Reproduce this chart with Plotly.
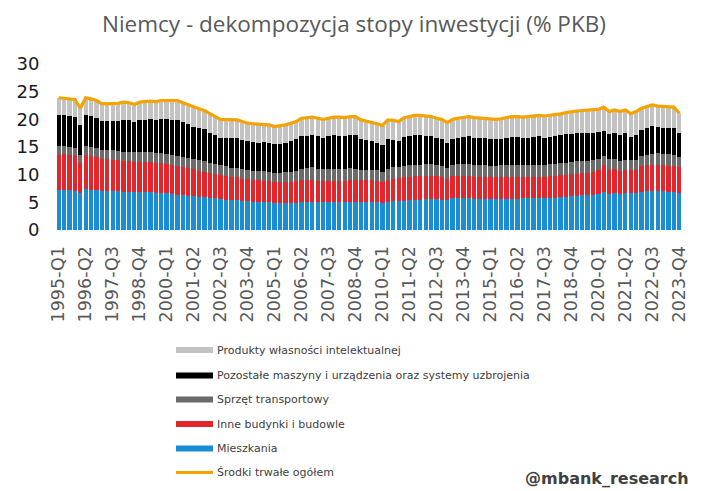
import plotly.graph_objects as go

quarters = [f"{y}-Q{q}" for y in range(1995, 2024) for q in range(1, 5)]
tick_labels = quarters[::5]

mieszkania = [
    7.3, 7.3, 7.2, 7.1, 6.7, 7.4, 7.2, 7.2, 7.0, 7.1, 7.1, 7.0,
    6.9, 6.9, 6.8, 6.8, 6.8, 6.8, 6.7, 6.7, 6.6, 6.5, 6.4, 6.3,
    6.2, 6.1, 6.0, 5.9, 5.8, 5.7, 5.6, 5.5, 5.4, 5.4, 5.3, 5.2,
    5.1, 5.1, 5.0, 5.0, 4.9, 4.9, 4.8, 4.8, 4.9, 5.0, 5.1, 5.1,
    5.0, 5.0, 5.0, 5.0, 5.0, 5.0, 5.0, 5.0, 5.0, 5.0, 5.0, 5.0,
    4.9, 5.1, 5.2, 5.3, 5.3, 5.4, 5.5, 5.5, 5.6, 5.6, 5.6, 5.5,
    5.4, 5.7, 5.7, 5.7, 5.7, 5.6, 5.6, 5.6, 5.6, 5.6, 5.6, 5.6,
    5.6, 5.6, 5.7, 5.7, 5.7, 5.7, 5.7, 5.8, 5.8, 5.9, 6.0, 6.1,
    6.2, 6.3, 6.3, 6.4, 6.5, 6.9, 6.5, 6.6, 6.5, 6.6, 6.6, 6.6,
    6.9, 7.0, 7.0, 7.0, 7.0, 6.9, 6.8, 6.7,
]
inne_budynki = [
    6.3, 6.4, 6.3, 6.3, 5.4, 6.2, 6.2, 6.0, 5.8, 5.7, 5.6, 5.6,
    5.5, 5.5, 5.5, 5.5, 5.5, 5.5, 5.4, 5.4, 5.3, 5.3, 5.2, 5.1,
    5.0, 4.9, 4.7, 4.6, 4.5, 4.4, 4.3, 4.2, 4.1, 4.1, 4.0, 4.0,
    3.9, 3.9, 3.9, 3.9, 3.8, 3.8, 3.9, 3.9, 3.9, 4.0, 4.0, 4.0,
    3.9, 3.9, 3.9, 3.9, 3.9, 3.9, 4.0, 4.0, 4.0, 4.0, 4.0, 3.9,
    3.7, 4.0, 4.1, 4.1, 4.2, 4.2, 4.2, 4.2, 4.2, 4.2, 4.1, 4.1,
    3.8, 4.1, 4.1, 4.1, 4.1, 4.0, 4.0, 4.0, 3.9, 3.9, 3.9, 3.9,
    3.9, 3.9, 3.9, 3.9, 3.9, 3.9, 3.9, 4.0, 4.0, 4.0, 4.0, 4.0,
    4.0, 4.0, 4.0, 4.1, 4.3, 4.9, 4.4, 4.4, 4.1, 4.3, 4.3, 4.3,
    4.6, 4.7, 4.8, 4.8, 4.7, 4.7, 4.7, 4.6,
]
sprzet_transportowy = [
    1.5, 1.5, 1.5, 1.5, 1.4, 1.5, 1.6, 1.6, 1.6, 1.6, 1.7, 1.7,
    1.7, 1.7, 1.8, 1.8, 1.8, 1.8, 1.8, 1.8, 1.8, 1.8, 1.8, 1.8,
    1.9, 1.9, 1.9, 1.9, 1.8, 1.8, 1.8, 1.8, 1.7, 1.7, 1.7, 1.7,
    1.7, 1.7, 1.7, 1.6, 1.6, 1.6, 1.7, 1.7, 1.8, 2.0, 2.1, 2.2,
    2.2, 2.2, 2.2, 2.2, 2.2, 2.2, 2.2, 2.1, 1.9, 1.9, 1.9, 1.9,
    1.9, 2.0, 2.0, 2.0, 2.1, 2.1, 2.1, 2.1, 2.1, 2.1, 2.1, 2.0,
    2.0, 2.0, 2.1, 2.1, 2.1, 2.1, 2.1, 2.1, 2.1, 2.1, 2.2, 2.2,
    2.2, 2.2, 2.2, 2.2, 2.2, 2.2, 2.2, 2.2, 2.2, 2.2, 2.1, 2.1,
    2.2, 2.2, 2.2, 2.2, 2.0, 1.6, 1.9, 1.9, 1.8, 1.8, 1.7, 1.8,
    1.8, 1.9, 2.0, 2.1, 2.1, 2.1, 2.1, 1.9,
]
pozostale_maszyny = [
    5.7, 5.5, 5.6, 5.6, 5.5, 5.7, 5.6, 5.5, 5.3, 5.3, 5.3, 5.4,
    5.8, 5.7, 5.4, 5.8, 5.8, 5.9, 6.0, 6.1, 6.3, 6.3, 6.5, 6.3,
    6.0, 5.8, 5.9, 5.8, 5.5, 5.2, 5.0, 5.2, 5.4, 5.4, 5.3, 5.1,
    5.2, 5.1, 5.3, 5.3, 5.2, 5.3, 5.4, 5.7, 5.8, 5.9, 5.8, 5.8,
    5.8, 5.6, 5.8, 6.0, 5.9, 5.8, 5.9, 6.0, 5.5, 5.3, 5.1, 4.9,
    4.9, 5.3, 5.0, 4.7, 5.2, 5.3, 5.4, 5.4, 5.1, 5.0, 4.8, 4.8,
    4.6, 4.6, 4.7, 4.9, 5.0, 5.0, 4.9, 4.9, 4.9, 4.8, 4.8, 4.9,
    5.1, 5.1, 4.9, 4.9, 5.0, 5.1, 4.9, 4.8, 4.9, 5.0, 5.2, 5.2,
    5.1, 5.1, 5.1, 4.9, 4.9, 4.5, 4.5, 4.7, 4.8, 4.8, 4.2, 4.5,
    4.8, 4.8, 5.0, 4.7, 4.7, 4.8, 4.8, 4.4,
]
produkty_wlasnosci = [
    3.1, 3.1, 3.1, 3.1, 3.0, 3.1, 3.1, 3.1, 3.1, 3.1, 3.1, 3.2,
    3.2, 3.2, 3.2, 3.2, 3.3, 3.3, 3.3, 3.4, 3.4, 3.5, 3.5, 3.5,
    3.5, 3.5, 3.4, 3.4, 3.4, 3.4, 3.3, 3.3, 3.3, 3.3, 3.3, 3.3,
    3.3, 3.3, 3.2, 3.2, 3.2, 3.2, 3.2, 3.2, 3.2, 3.3, 3.3, 3.3,
    3.3, 3.3, 3.3, 3.3, 3.4, 3.4, 3.4, 3.4, 3.5, 3.5, 3.5, 3.5,
    3.5, 3.5, 3.5, 3.5, 3.5, 3.5, 3.5, 3.5, 3.6, 3.6, 3.6, 3.6,
    3.6, 3.6, 3.6, 3.6, 3.6, 3.6, 3.6, 3.6, 3.6, 3.6, 3.6, 3.7,
    3.7, 3.7, 3.7, 3.8, 3.8, 3.8, 3.9, 3.9, 3.9, 3.9, 3.9, 4.0,
    4.0, 4.0, 4.1, 4.1, 4.1, 4.3, 4.1, 4.1, 4.2, 4.2, 4.2, 4.2,
    3.9, 3.9, 3.8, 3.8, 3.8, 3.8, 3.8, 3.5,
]
srodki_trwale_ogolem = [
    23.9, 23.8, 23.7, 23.6, 22.0, 23.9, 23.7, 23.4, 22.8, 22.8, 22.8, 22.9,
    23.1, 23.0, 22.7, 23.1, 23.2, 23.3, 23.2, 23.4, 23.4, 23.4, 23.4, 23.0,
    22.6, 22.2, 21.9, 21.6, 21.0, 20.5, 20.0, 20.0, 19.9, 19.9, 19.6, 19.3,
    19.2, 19.1, 19.1, 19.0, 18.7, 18.8, 19.0, 19.3, 19.6, 20.2, 20.3, 20.4,
    20.2, 20.0, 20.2, 20.4, 20.4, 20.3, 20.5, 20.5, 19.9, 19.7, 19.5, 19.2,
    18.9, 19.9, 19.8, 19.6, 20.3, 20.5, 20.7, 20.7, 20.6, 20.5, 20.2, 20.0,
    19.4, 20.0, 20.2, 20.4, 20.5, 20.3, 20.2, 20.2, 20.1, 20.0, 20.1, 20.3,
    20.5, 20.5, 20.4, 20.5, 20.6, 20.7, 20.6, 20.7, 20.8, 21.0, 21.2, 21.4,
    21.5, 21.6, 21.7, 21.7, 21.8, 22.2, 21.4, 21.7, 21.4, 21.7, 21.0, 21.4,
    22.0, 22.3, 22.6, 22.4, 22.3, 22.3, 22.2, 21.1,
]

C_BLUE = "#1A8DD3"
C_RED = "#E2262B"
C_DGRAY = "#6B6B6B"
C_BLACK = "#000000"
C_LGRAY = "#C3C3C3"
C_ORANGE = "#F4A300"

bars = [
    ("Mieszkania", mieszkania, C_BLUE),
    ("Inne budynki i budowle", inne_budynki, C_RED),
    ("Sprzęt transportowy", sprzet_transportowy, C_DGRAY),
    ("Pozostałe maszyny i urządzenia oraz systemy uzbrojenia", pozostale_maszyny, C_BLACK),
    ("Produkty własności intelektualnej", produkty_wlasnosci, C_LGRAY),
]

fig = go.Figure()
for name, vals, col in bars:
    fig.add_trace(go.Bar(x=quarters, y=vals, name=name, marker_color=col,
                         marker_line_width=0, showlegend=False))
fig.add_trace(go.Scatter(x=quarters, y=srodki_trwale_ogolem, name="Środki trwałe ogółem",
                         mode="lines", line=dict(color=C_ORANGE, width=3.2), showlegend=False))

W, H = 713, 491
L, R, T, B = 56, 31, 64, 261
PW, PH = W - L - R, H - T - B


def px(x):
    return (x - L) / PW


def py(y):
    return (H - B - y) / PH


shapes = []
annotations = []
legend_items = [
    ("Produkty własności intelektualnej", C_LGRAY, "rect", 350),
    ("Pozostałe maszyny i urządzenia oraz systemy uzbrojenia", C_BLACK, "rect", 375.5),
    ("Sprzęt transportowy", C_DGRAY, "rect", 399.5),
    ("Inne budynki i budowle", C_RED, "rect", 424),
    ("Mieszkania", C_BLUE, "rect", 448.5),
    ("Środki trwałe ogółem", C_ORANGE, "line", 472.5),
]
for text, col, kind, yc in legend_items:
    if kind == "rect":
        shapes.append(dict(type="rect", xref="paper", yref="paper",
                           x0=px(176), x1=px(213), y0=py(yc + 3), y1=py(yc - 3),
                           fillcolor=col, line_width=0))
    else:
        shapes.append(dict(type="line", xref="paper", yref="paper",
                           x0=px(176), x1=px(213), y0=py(yc), y1=py(yc),
                           line=dict(color=col, width=3)))
    annotations.append(dict(text=text, xref="paper", yref="paper", x=px(215), y=py(yc),
                            xanchor="left", yanchor="middle", showarrow=False,
                            font=dict(family="DejaVu Sans", size=11, color="#404040")))

annotations.append(dict(text="Niemcy - dekompozycja stopy inwestycji (% PKB)",
                        xref="paper", yref="paper", x=px(354), y=py(23),
                        xanchor="center", yanchor="middle", showarrow=False,
                        font=dict(family="Open Sans", size=22.5, color="#595959")))
annotations.append(dict(text="<b>@mbank_research</b>", xref="paper", yref="paper",
                        x=px(691), y=py(478), xanchor="right", yanchor="middle",
                        showarrow=False,
                        font=dict(family="DejaVu Sans", size=16, color="#404040")))

fig.update_layout(
    width=W, height=H,
    margin=dict(l=L, r=R, t=T, b=B, pad=0),
    barmode="stack", bargap=0.2,
    plot_bgcolor="white", paper_bgcolor="white",
    shapes=shapes, annotations=annotations,
    showlegend=False,
)
fig.update_xaxes(type="category", tickmode="array", tickvals=tick_labels, ticktext=tick_labels,
                 tickangle=-90, tickfont=dict(family="DejaVu Sans", size=17.5, color="#595959"),
                 showgrid=False, showline=False, zeroline=False, ticks="outside",
                 ticklen=8, tickcolor="rgba(0,0,0,0)")
fig.update_yaxes(range=[0, 30], tickvals=[0, 5, 10, 15, 20, 25, 30],
                 tickfont=dict(family="DejaVu Sans", size=18, color="#1a1a1a"),
                 showgrid=False, showline=False, zeroline=False, ticks="outside",
                 ticklen=12, tickcolor="rgba(0,0,0,0)")

fig.write_html("out.html")
